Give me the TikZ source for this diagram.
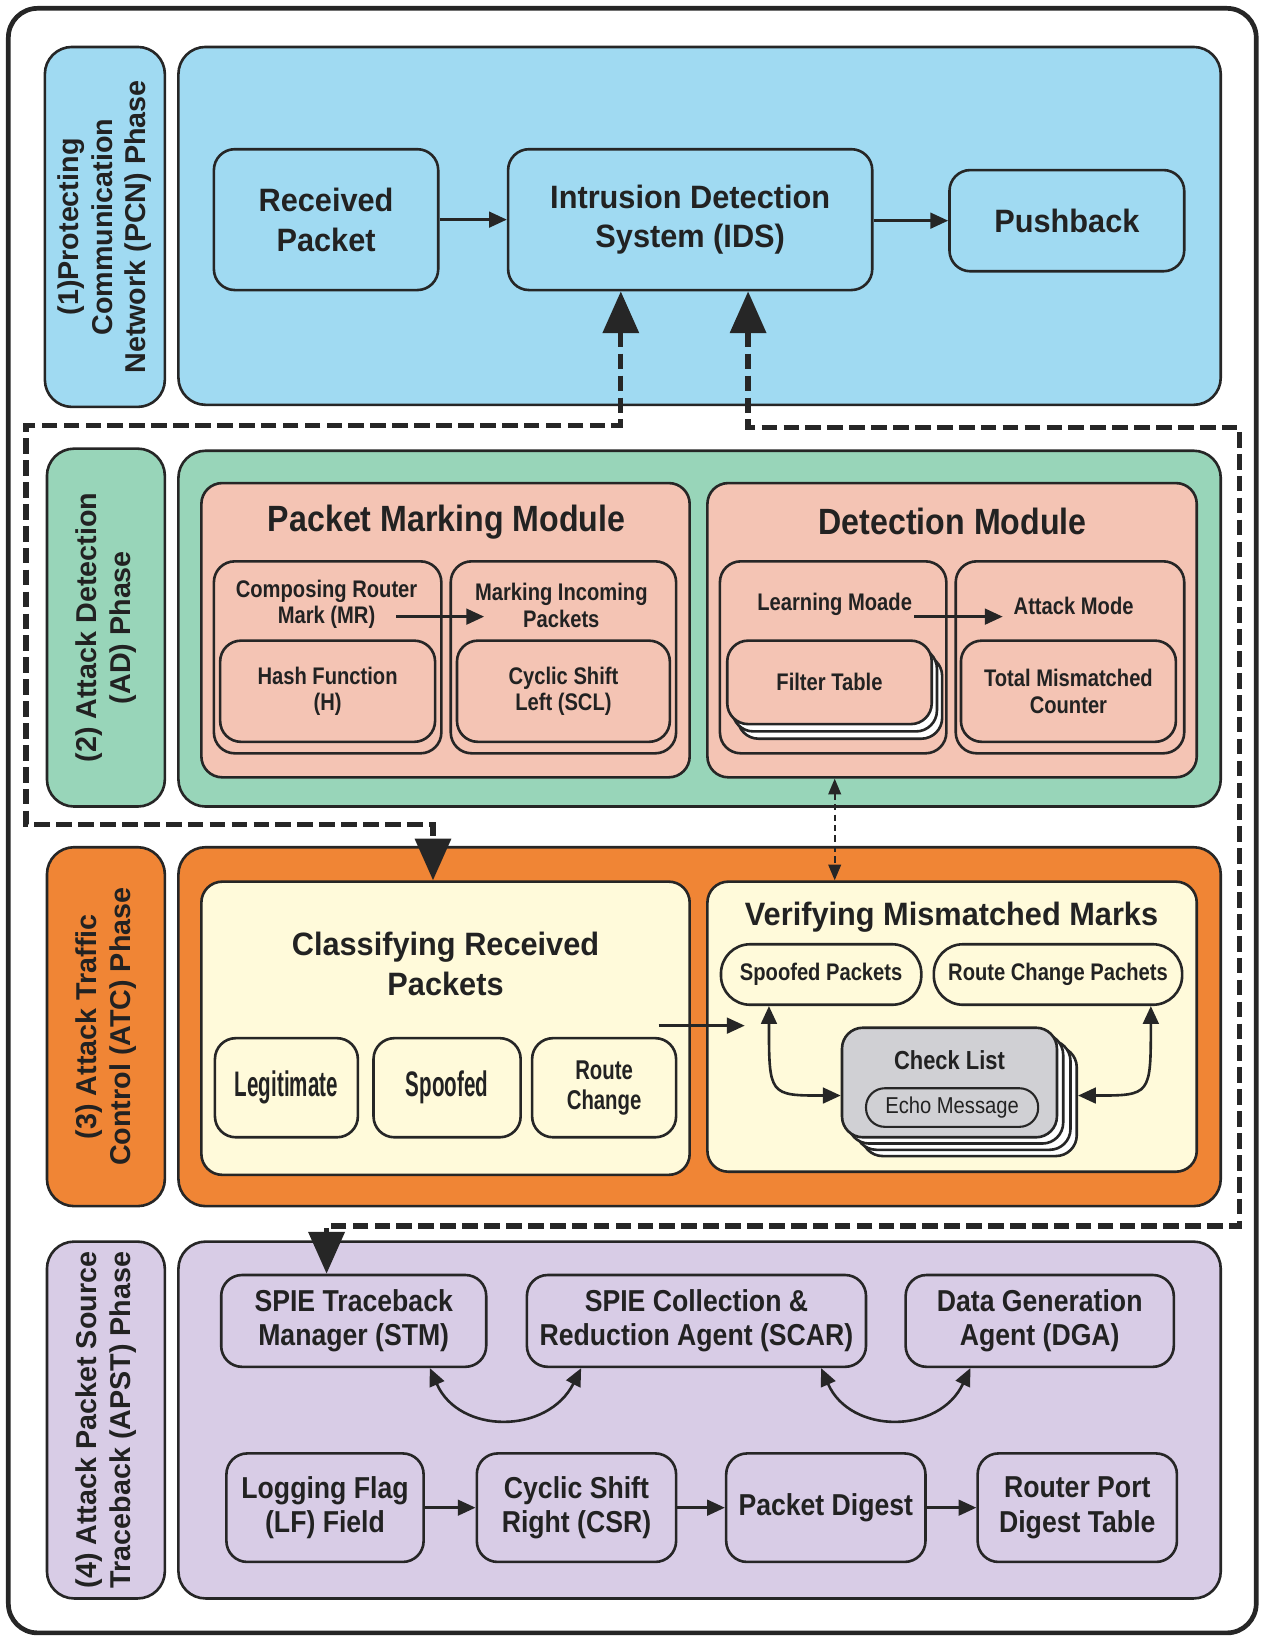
\documentclass[tikz,border=0pt]{standalone}
\usepackage{fontspec}
\setmainfont{Liberation Sans}
\newfontfamily\sA[FakeStretch=0.95]{Liberation Sans}
\newfontfamily\sB[FakeStretch=0.88]{Liberation Sans}
\newfontfamily\sC[FakeStretch=0.84]{Liberation Sans}
\newfontfamily\sD[FakeStretch=0.75]{Liberation Sans}
\newfontfamily\sE[FakeStretch=0.58]{Liberation Sans}
\usetikzlibrary{arrows.meta,calc}
\definecolor{lc}{HTML}{262626}
\definecolor{tc}{HTML}{222222}
\definecolor{cblue}{HTML}{A0DAF2}
\definecolor{cgreen}{HTML}{98D5B9}
\definecolor{csalmon}{HTML}{F4C4B4}
\definecolor{corange}{HTML}{F08535}
\definecolor{cyellow}{HTML}{FFFADA}
\definecolor{cgray}{HTML}{D0D0D4}
\definecolor{clav}{HTML}{D8CCE6}
\newcommand\fBig{\sA\bfseries\fontsize{31}{38}\selectfont}
\newcommand\fPhase{\bfseries\fontsize{27.5}{32}\selectfont}
\newcommand\fMod{\sB\bfseries\fontsize{35}{40}\selectfont}
\newcommand\fSmall{\sC\bfseries\fontsize{23}{25.5}\selectfont}
\newcommand\fApst{\sB\bfseries\fontsize{29}{33}\selectfont}
\newcommand\fLeg{\sE\bfseries\fontsize{34}{38}\selectfont}
\newcommand\fRc{\sD\bfseries\fontsize{26}{29}\selectfont}
\newcommand\fCheck{\sC\bfseries\fontsize{25}{28}\selectfont}
\newcommand\fEcho{\sB\fontsize{22}{25}\selectfont}
\newcommand\mybox[7]{\node[#6, minimum width={(#4)-(#2)}, minimum height={(#5)-(#3)}] (#1) at ({((#2)+(#4))/2},{((#3)+(#5))/2}) {#7};}
\tikzset{
  bx/.style={draw=lc, line width=2.5pt, rounded corners=20pt, inner sep=0pt, align=center, text=tc},
  phasebox/.style={bx, rounded corners=26pt},
  pill/.style={bx, rounded corners=28pt},
  lbl/.style={align=center, text=tc, inner sep=0pt},
  arr/.style={draw=lc, line width=2.5pt, -{Triangle[length=17pt,width=15pt]}},
  darr/.style={draw=lc, line width=2.5pt, {Triangle[length=17pt,width=15pt]}-{Triangle[length=17pt,width=15pt]}},
  bigdash/.style={draw=lc, line width=5pt, dash pattern=on 15pt off 6pt, {Triangle[length=40pt,width=34pt]}-{Triangle[length=40pt,width=34pt]}},
  thindash/.style={draw=lc, line width=2pt, dash pattern=on 6pt off 4pt, {Triangle[length=15pt,width=12pt]}-{Triangle[length=15pt,width=12pt]}},
}
\begin{document}
\begin{tikzpicture}[x=1pt,y=-1pt]
\useasboundingbox (0,0) rectangle (1209,1568);
% outer border
\mybox{outer}{8}{8}{1204}{1565}{bx, line width=4.5pt, rounded corners=28pt}{}

% ===== Phase 1 =====
\mybox{p1}{43}{45}{158}{390}{phasebox, fill=cblue}{}
\node[lbl, rotate=90, font=\fPhase] (p1t) at (p1) {(1)Protecting\\Communication\\Network (PCN) Phase};
\mybox{m1}{171}{45}{1170}{388}{phasebox, fill=cblue}{}
\mybox{rp}{205}{143}{420}{278}{bx, fill=cblue, font=\fBig}{Received\\Packet}
\mybox{ids}{487}{143}{836}{278}{bx, fill=cblue, font=\fBig}{Intrusion Detection\\System (IDS)}
\mybox{push}{910}{163}{1135}{260}{bx, fill=cblue, font=\fBig}{Pushback}
\draw[arr] (rp.east) -- (rp.east -| ids.west);
\draw[arr] (ids.east |- push.west) -- (push.west);

% ===== Phase 2 =====
\mybox{p2}{45}{430}{158}{773}{phasebox, fill=cgreen}{}
\node[lbl, rotate=90, font=\fPhase] (p2t) at (p2) {(2) Attack Detection\\(AD) Phase};
\mybox{m2}{171}{432}{1170}{773}{phasebox, fill=cgreen}{}
\mybox{pmm}{193}{463}{661}{745}{bx, fill=csalmon}{}
\node[lbl, font=\fMod] (pmmt) at (428,500) {Packet Marking Module};
\mybox{crm}{205}{538}{423}{722}{bx, fill=csalmon}{}
\node[lbl, font=\fSmall] (crmt) at (313,579) {Composing Router\\Mark (MR)};
\mybox{hash}{211}{614}{417}{711}{bx, fill=csalmon, font=\fSmall}{Hash Function\\(H)}
\mybox{mip}{432}{538}{648}{722}{bx, fill=csalmon}{}
\node[lbl, font=\fSmall] (mipt) at (538,580) {Marking Incoming\\Packets};
\mybox{csl}{438}{614}{642}{711}{bx, fill=csalmon, font=\fSmall}{Cyclic Shift\\Left (SCL)}
\coordinate (a1) at (380,591);
\coordinate (a2) at (464,591);
\draw[arr] (a1) -- (a2);

\mybox{dm}{678}{463}{1147}{745}{bx, fill=csalmon}{}
\node[lbl, font=\fMod] (dmt) at (913,500) {Detection Module};
\mybox{lm}{690}{538}{907}{722}{bx, fill=csalmon}{}
\node[lbl, font=\fSmall] (lmt) at (800,579) {Learning Moade};
\mybox{ft3}{707}{628}{903}{708}{bx, fill=white}{}
\mybox{ft2}{702}{621}{898}{701}{bx, fill=white}{}
\mybox{ft}{697}{614}{893}{694}{bx, fill=csalmon, font=\fSmall}{Filter Table}
\mybox{am}{916}{538}{1135}{722}{bx, fill=csalmon}{}
\node[lbl, font=\fSmall] (amt) at (1029,581) {Attack Mode};
\mybox{tmc}{921}{614}{1127}{711}{bx, fill=csalmon, font=\fSmall}{Total Mismatched\\Counter}
\coordinate (b1) at (876,591);
\coordinate (b2) at (961,591);
\draw[arr] (b1) -- (b2);

% ===== Phase 3 =====
\mybox{p3}{45}{812}{158}{1156}{phasebox, fill=corange}{}
\node[lbl, rotate=90, font=\fPhase] (p3t) at (p3) {(3) Attack Traffic\\Control (ATC) Phase};
\mybox{m3}{171}{812}{1170}{1156}{phasebox, fill=corange}{}
\mybox{cls}{193}{845}{661}{1126}{bx, fill=cyellow}{}
\node[lbl, font=\fBig] (clst) at (427,924) {Classifying Received\\Packets};
\mybox{leg}{206}{995}{343}{1090}{bx, fill=cyellow, font=\fLeg}{Legitimate}
\mybox{spf}{358}{995}{499}{1090}{bx, fill=cyellow, font=\fLeg}{Spoofed}
\mybox{rc}{510}{995}{648}{1090}{bx, fill=cyellow, font=\fRc}{Route\\Change}
\mybox{ver}{678}{845}{1147}{1123}{bx, fill=cyellow}{}
\node[lbl, font=\fBig] (vert) at (912,879) {Verifying Mismatched Marks};
\mybox{spp}{691}{905}{883}{963}{pill, fill=cyellow, font=\fSmall}{Spoofed Packets}
\mybox{rcp}{895}{905}{1133}{963}{pill, fill=cyellow, font=\fSmall}{Route Change Pachets}
\mybox{ck4}{826}{1003}{1032}{1108}{bx, fill=white}{}
\mybox{ck3}{820}{997}{1026}{1102}{bx, fill=white}{}
\mybox{ck2}{813}{991}{1019}{1096}{bx, fill=white}{}
\mybox{ck}{807}{985}{1013}{1090}{bx, fill=cgray}{}
\node[lbl, font=\fCheck] (ckt) at (910,1016) {Check List};
\mybox{echo}{830}{1043}{995}{1080}{bx, line width=2pt, rounded corners=18pt, fill=cgray, font=\fEcho}{Echo Message}
\draw[arr] ([xshift=-31pt]cls.east |- 0,983) -- (ver.west |- 0,983) -- ++(37,0);
\draw[darr] (spp.south -| 737,0) .. controls (737,1050) .. (ck.west |- 0,1050);
\draw[darr] (rcp.south -| 1103,0) .. controls (1103,1050) .. (ck4.east |- 0,1050);
\draw[thindash] (dm.south -| 800,0) -- (ver.north -| 800,0);

% ===== Phase 4 =====
\mybox{p4}{45}{1190}{158}{1532}{phasebox, fill=clav}{}
\node[lbl, rotate=90, font=\fPhase] (p4t) at (p4) {(4) Attack Packet Source\\Traceback (APST) Phase};
\mybox{m4}{171}{1190}{1170}{1532}{phasebox, fill=clav}{}
\mybox{stm}{212}{1222}{466}{1310}{bx, fill=clav, font=\fApst}{SPIE Traceback\\Manager (STM)}
\mybox{scar}{505}{1222}{830}{1310}{bx, fill=clav, font=\fApst}{SPIE Collection \&\\Reduction Agent (SCAR)}
\mybox{dga}{868}{1222}{1125}{1310}{bx, fill=clav, font=\fApst}{Data Generation\\Agent (DGA)}
\mybox{lf}{217}{1393}{406}{1497}{bx, fill=clav, font=\fApst}{Logging Flag\\(LF) Field}
\mybox{csr}{457}{1393}{648}{1497}{bx, fill=clav, font=\fApst}{Cyclic Shift\\Right (CSR)}
\mybox{pd}{696}{1393}{887}{1497}{bx, fill=clav, font=\fApst}{Packet Digest}
\mybox{rpd}{937}{1393}{1128}{1497}{bx, fill=clav, font=\fApst}{Router Port\\Digest Table}
\draw[arr] (lf.east) -- (csr.west);
\draw[arr] (csr.east) -- (pd.west);
\draw[arr] (pd.east) -- (rpd.west);
\draw[darr] (stm.south -| 412,0) .. controls (440,1375) and (525,1375) .. (scar.south -| 557,0);
\draw[darr] (scar.south -| 787,0) .. controls (815,1375) and (900,1375) .. (dga.south -| 930,0);

% ===== dashed feedback paths =====
\coordinate (L1) at (595,408);
\coordinate (L2) at (25,408);
\coordinate (L3) at (25,790);
\coordinate (L4) at (415,790);
\draw[bigdash] (ids.south -| L1) -- (L1) -- (L2) -- (L3) -- (L4) -- (cls.north -| L4);
\coordinate (R1) at (717,410);
\coordinate (R2) at (1188,410);
\coordinate (R3) at (1188,1175);
\coordinate (R4) at (313,1175);
\draw[bigdash] (ids.south -| R1) -- (R1) -- (R2) -- (R3) -- (R4) -- (stm.north -| R4);
\end{tikzpicture}
\end{document}
